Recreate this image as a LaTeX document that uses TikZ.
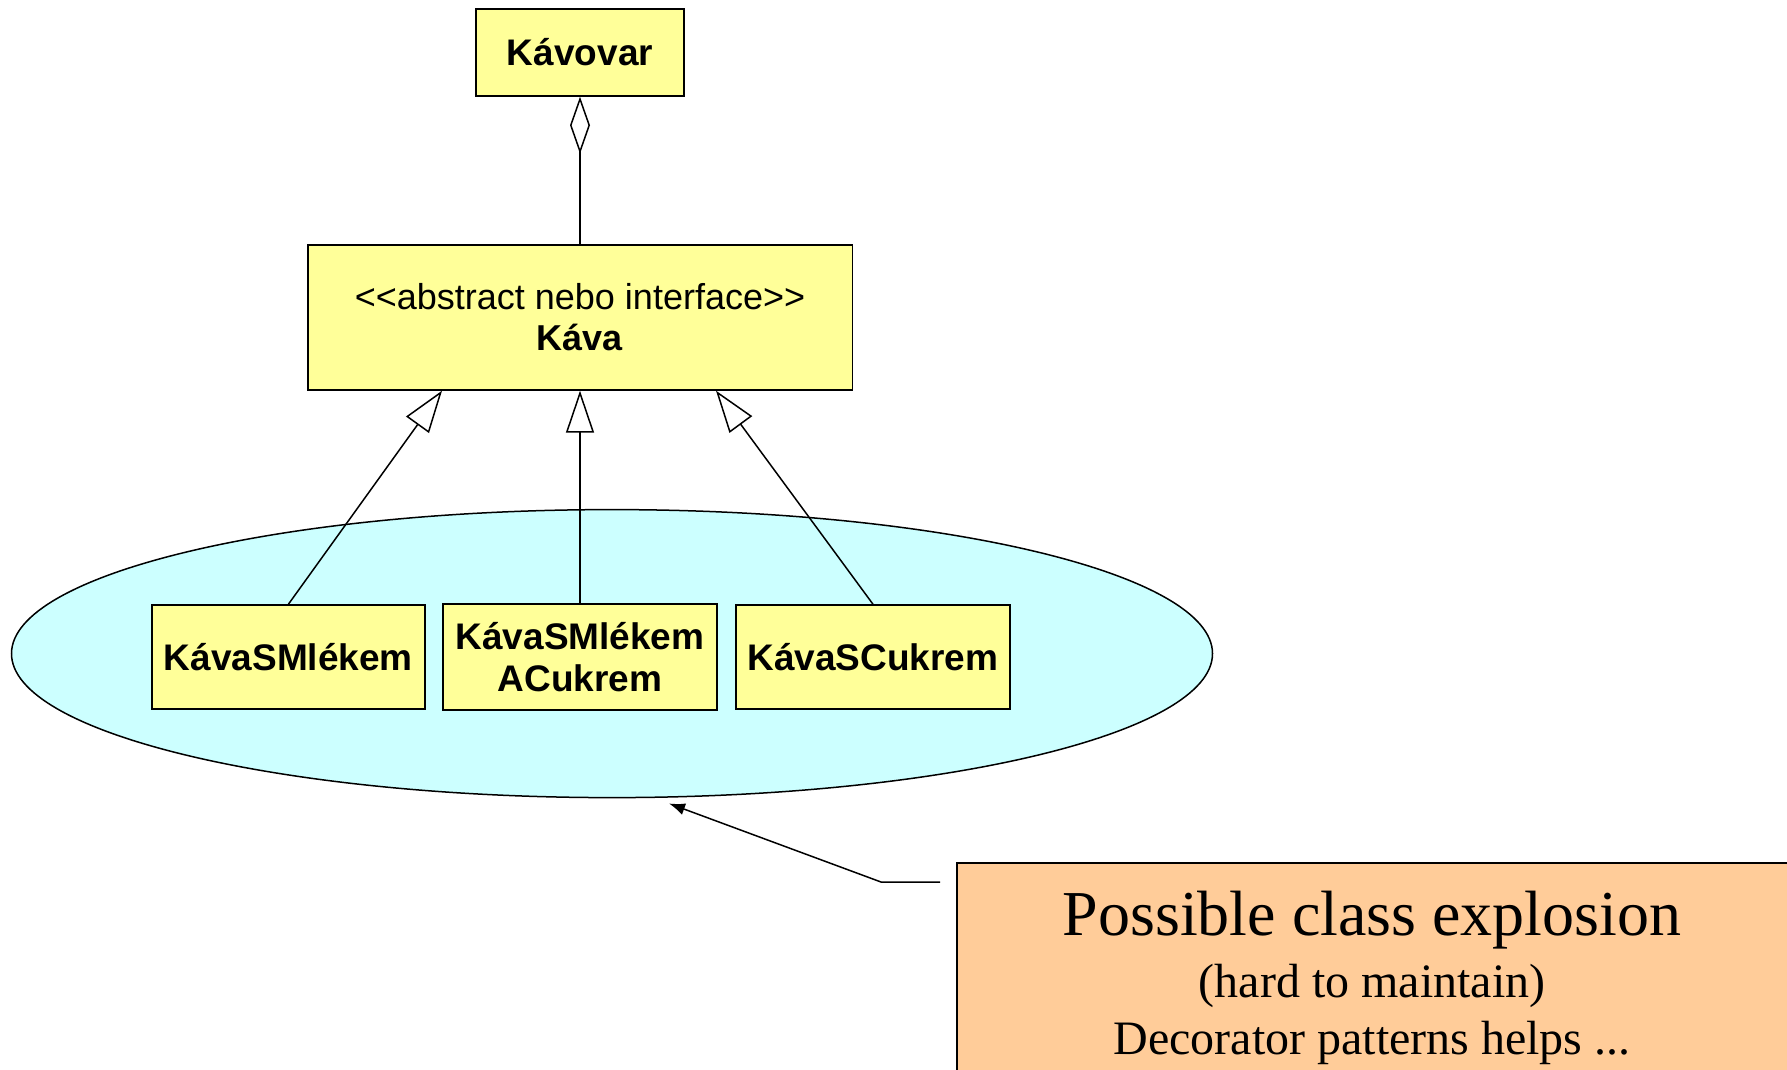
\documentclass[tikz,border=0pt]{standalone}
\usepackage{fontspec}
\setmainfont{Liberation Sans}
\newfontfamily\notefont{Liberation Serif}
\usetikzlibrary{arrows.meta,shapes.geometric}
\definecolor{clsyellow}{HTML}{FFFF99}
\definecolor{grpcyan}{HTML}{CCFFFF}
\definecolor{noteorange}{HTML}{FFCC99}
\begin{document}
\begin{tikzpicture}[x=1pt,y=-1pt,
  classbox/.style={draw, line width=1.8pt, fill=clsyellow, inner sep=0pt, align=center,
    font=\fontsize{37}{42}\selectfont\bfseries},
  groupshape/.style={draw, ellipse, line width=1.5pt, fill=grpcyan, inner sep=0pt},
  notebox/.style={draw, line width=1.8pt, fill=noteorange, inner sep=0pt},
  gen/.style={-{Triangle[length=42pt,width=28pt,fill=white]}, line width=1.5pt},
  agg/.style={-{Diamond[length=57pt,width=20pt,fill=white]}, line width=1.5pt},
  pointer/.style={-{Latex[length=16pt,width=12pt]}, line width=1.5pt}
]
\useasboundingbox (0,0) rectangle (1787,1070);
\fill[white] (0,0) rectangle (1787,1070);

% group ellipse
\node[groupshape, minimum width=1201pt, minimum height=288pt] (group) at (612,653.6) {};

% classes
\node[classbox, minimum width=208.5pt, minimum height=86.7pt] (kavovar) at (580,52.5) {Kávovar};
\node[classbox, minimum width=544.8pt, minimum height=144.8pt,
      font=\fontsize{36}{41}\selectfont] (kava) at (580,317.4)
  {<{}<abstract nebo interface>{}>\\{\bfseries Káva}};
\node[classbox, minimum width=273.5pt, minimum height=103.7pt] (b1) at (288.4,657) {KávaSMlékem};
\node[classbox, minimum width=273.5pt, minimum height=106pt] (b2) at (580,657) {KávaSMlékem\\ACukrem};
\node[classbox, minimum width=273.6pt, minimum height=103.7pt] (b3) at (873,657) {KávaSCukrem};

% connectors
\draw[agg] (kava.north) -- (kavovar.south);
\draw[gen] (b1.north) -- ([xshift=-138pt]kava.south);
\draw[gen] (b2.north) -- (kava.south);
\draw[gen] (b3.north) -- ([xshift=136pt]kava.south);

% note
\clip (0,0) rectangle (1787,1070);
\node[notebox, anchor=north west, minimum width=840pt, minimum height=240pt] (note) at (956,862) {};
\node[inner sep=0pt, align=center, anchor=north, font=\notefont\fontsize{48}{57}\selectfont]
  (notetxt) at (1372,890.8)
  {{\fontsize{64}{64}\selectfont Possible class explosion}\\[5.5pt]
   (hard to maintain)\\
   Decorator patterns helps ...};

\coordinate (nstart) at (940,882);
\coordinate (nbend) at (881,882);
\coordinate (ntip) at (669,803.5);
\draw[pointer] (nstart) -- (nbend) -- (ntip);
\end{tikzpicture}
\end{document}
